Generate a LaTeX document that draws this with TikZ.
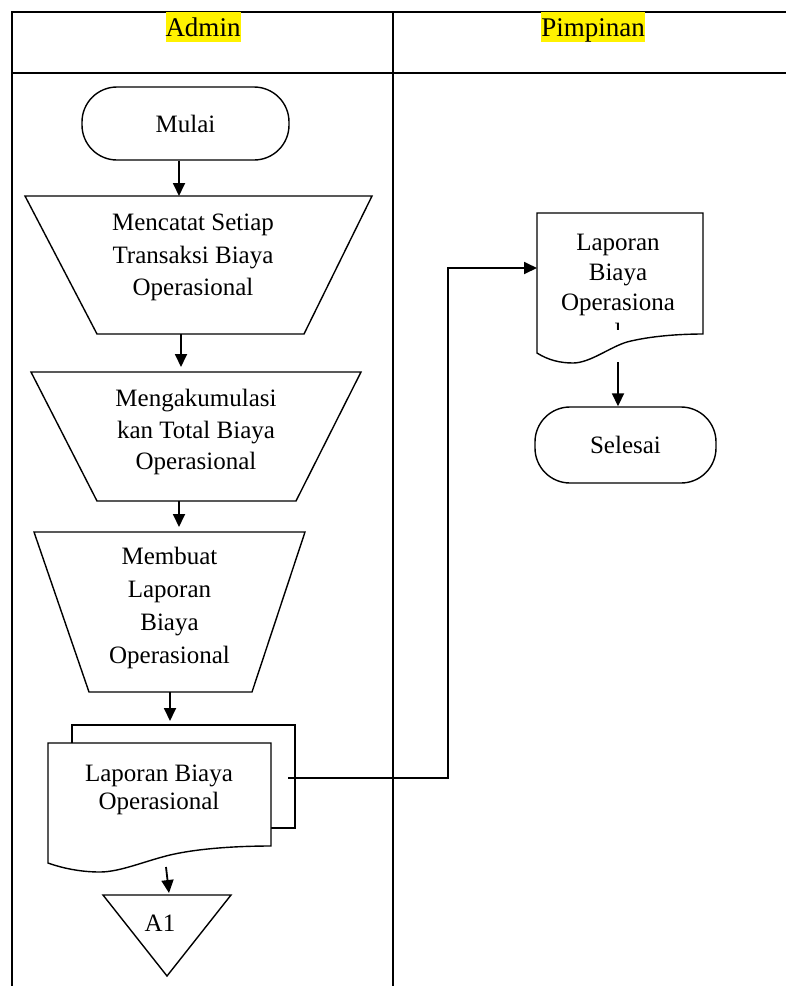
\documentclass[tikz,border=0pt]{standalone}
\usepackage{fontspec}
\setmainfont{Liberation Serif}
\usetikzlibrary{arrows.meta}

\begin{document}
\begin{tikzpicture}[x=1pt,y=-1pt,
  shapeline/.style={draw=black, line width=1.4pt, fill=white},
  flow/.style={line width=1.8pt, -{Triangle[length=13pt,width=12pt]}},
  lane/.style={line width=2.8pt},
  txt/.style={font=\fontsize{25}{#1}\selectfont, align=center, inner sep=0pt},
  txt/.default=30,
  terminal/.style={shapeline, rectangle, rounded corners=35pt, font=\fontsize{25}{30}\selectfont, inner sep=0pt},
  lanehead/.style={font=\fontsize{27}{32}\selectfont, fill=yellow, inner sep=0pt, text height=24pt, text depth=6pt, anchor=base}
]
% page area
\fill[white] (0,0) rectangle (786,986);
\useasboundingbox (0,0) rectangle (786,986);

% swimlane table
\draw[lane] (792,12) -- (12,12) -- (12,992);
\draw[lane] (12,73) -- (792,73);
\draw[lane] (393,12) -- (393,992);
\node[lanehead] (hadmin) at (203,36) {Admin};
\node[lanehead] (hpimpinan) at (593,36) {Pimpinan};

% ---------- Admin lane ----------
\node[terminal, minimum width=207pt, minimum height=73pt] (mulai) at (185.5,123.5) {Mulai};

% manual operation 1
\draw[shapeline] (25,196) -- (372,196) -- (304,334) -- (97,334) -- cycle;
\node[txt=32.5] (op1) at (193,257.5) {Mencatat Setiap\\Transaksi Biaya\\Operasional};
\coordinate (op1in) at (179,196);
\coordinate (op1out) at (181,334);

% manual operation 2
\draw[shapeline] (31,372) -- (361,372) -- (296,501) -- (97,501) -- cycle;
\node[txt=31.5] (op2) at (196,432.2) {Mengakumulasi\\kan Total Biaya\\Operasional};
\coordinate (op2in) at (181,367);
\coordinate (op2out) at (179,501);

% manual operation 3
\draw[shapeline] (34,532) -- (305,532) -- (252,692) -- (89,692) -- cycle;
\node[txt=33] (op3) at (169.5,607.7) {Membuat\\Laporan\\Biaya\\Operasional};
\coordinate (op3in) at (179,527);
\coordinate (op3out) at (170,692);

% multiple documents
\draw[shapeline] (72,725) rectangle (295,828);
\draw[shapeline] (48,743) -- (271,743) -- (271,846)
  .. controls (240,846) and (200,848) .. (170,855)
  .. controls (145,861) and (120,872) .. (100,872)
  .. controls (80,872) and (62,868) .. (48,863) -- cycle;
\node[txt=28] (docs) at (159,789.5) {Laporan Biaya\\Operasional};
\coordinate (docsin) at (170,721);
\coordinate (docsout) at (166,867);
\coordinate (docsside) at (288,778);

% off-page connector
\draw[shapeline] (103,895) -- (231,895) -- (167,976) -- cycle;
\node[txt] (a1) at (160,923.7) {A1};
\coordinate (a1in) at (169,893);

% ---------- Pimpinan lane ----------
\draw[shapeline] (537,213) -- (703,213) -- (703,334)
  .. controls (680,334) and (650,336) .. (627,342)
  .. controls (610,347) and (590,363) .. (573,363)
  .. controls (560,363) and (548,360) .. (537,353) -- cycle;
\begin{scope}
  \clip (537,213) rectangle (703,329);
  \node[txt] (lap) at (618,287.5) {Laporan\\Biaya\\Operasiona\\l};
\end{scope}
\coordinate (lapin) at (537,268);
\coordinate (lapout) at (618,362);
\coordinate (bend) at (448,268);

\node[terminal, minimum width=181pt, minimum height=76pt] (selesai) at (625.5,445) {Selesai};

% ---------- flow ----------
\draw[flow] (mulai.south -| op1in) -- (op1in);
\draw[flow] (op1out) -- (op2in);
\draw[flow] (op2out) -- (op3in);
\draw[flow] (op3out) -- (docsin);
\draw[flow] (docsout) -- (a1in);
\draw[flow, line join=miter] (docsside) -| (bend) -- (lapin);
\draw[flow] (lapout) -- (lapout |- selesai.north);
\end{tikzpicture}
\end{document}
